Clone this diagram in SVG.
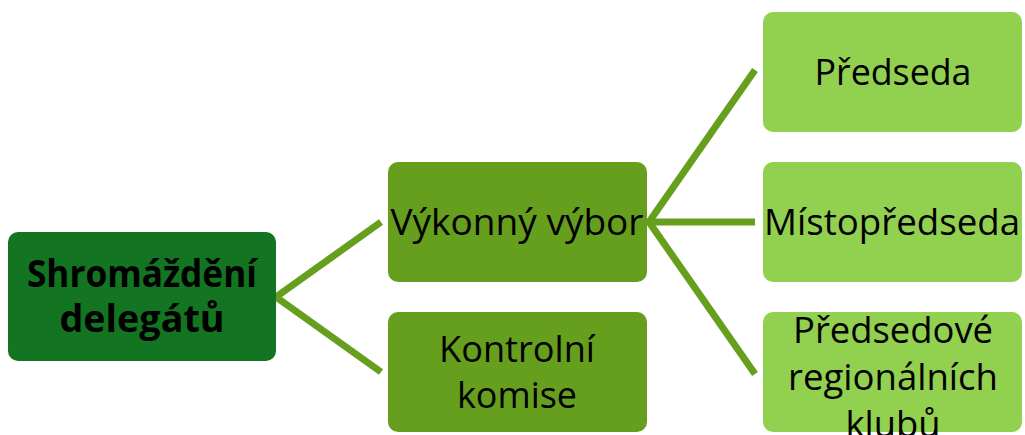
<svg xmlns="http://www.w3.org/2000/svg" width="1025" height="435" viewBox="0 0 1025 435">
<style>
.t{font-family:"Open Sans","Noto Sans","Liberation Sans",sans-serif;font-size:37px;fill:#000;text-anchor:middle}
.b{font-weight:bold}
.c{stroke:#669E1D;stroke-width:7;fill:none}
.l1{fill:#137421}
.l2{fill:#669E1D}
.l3{fill:#92D050}
</style>
<rect width="1025" height="435" fill="#fff"/>
<g id="connectors">
<polyline class="c" points="381,222 276,297 381,372"/>
<polyline class="c" points="755,70 649,222 755,374"/>
<line class="c" x1="649" y1="222" x2="755" y2="222"/>
</g>
<g id="shromazdeni">
<rect class="l1" x="8" y="232" width="268" height="129" rx="10"/>
<text class="t b" x="142" y="287" textLength="230" lengthAdjust="spacingAndGlyphs">Shromáždění</text>
<text class="t b" x="142" y="332" textLength="165" lengthAdjust="spacingAndGlyphs">delegátů</text>
</g>
<g id="vykonny">
<rect class="l2" x="388" y="162" width="259" height="120" rx="10"/>
<text class="t" x="517" y="235" textLength="253" lengthAdjust="spacingAndGlyphs">Výkonný výbor</text>
</g>
<g id="kontrolni">
<rect class="l2" x="388" y="312" width="259" height="120" rx="10"/>
<text class="t" x="517" y="362" textLength="156" lengthAdjust="spacingAndGlyphs">Kontrolní</text>
<text class="t" x="517" y="408" textLength="120" lengthAdjust="spacingAndGlyphs">komise</text>
</g>
<g id="predseda">
<rect class="l3" x="763" y="12" width="259" height="120" rx="10"/>
<text class="t" x="893" y="85" textLength="157" lengthAdjust="spacingAndGlyphs">Předseda</text>
</g>
<g id="mistopredseda">
<rect class="l3" x="763" y="162" width="259" height="120" rx="10"/>
<text class="t" x="892" y="235" textLength="256" lengthAdjust="spacingAndGlyphs">Místopředseda</text>
</g>
<g id="predsedove">
<rect class="l3" x="763" y="312" width="259" height="120" rx="10"/>
<text class="t" x="893" y="343" textLength="200" lengthAdjust="spacingAndGlyphs">Předsedové</text>
<text class="t" x="893" y="390" textLength="210" lengthAdjust="spacingAndGlyphs">regionálních</text>
<text class="t" x="893" y="437" textLength="95" lengthAdjust="spacingAndGlyphs">klubů</text>
</g>
</svg>
